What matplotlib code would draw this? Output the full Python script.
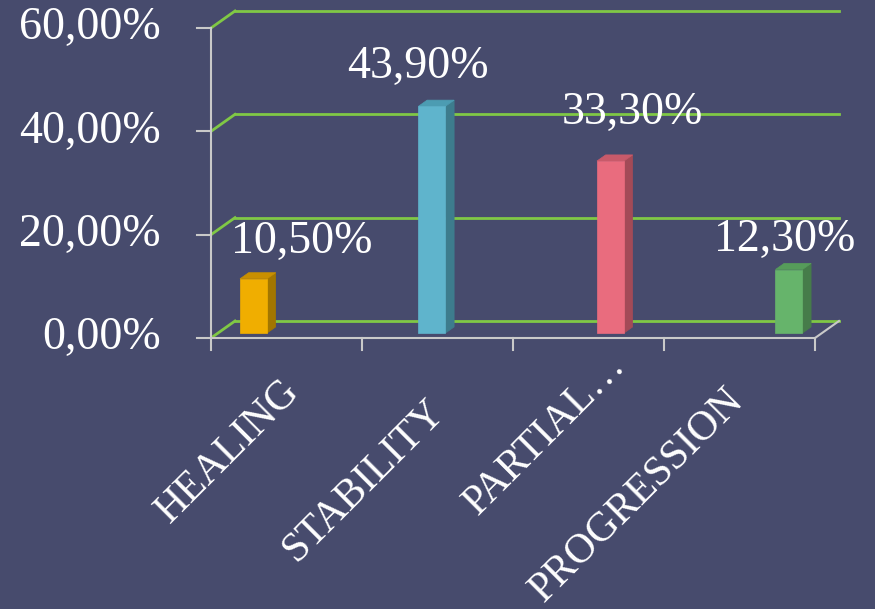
import numpy as np
import matplotlib
matplotlib.use('Agg')
import matplotlib.pyplot as plt
from matplotlib.patches import Polygon

# Données
categories = ['HEALING', 'STABILITY', 'PARTIAL…', 'PROGRESSION']
valeurs = [10.5, 43.9, 33.3, 12.3]
etiquettes = ['10,50%', '43,90%', '33,30%', '12,30%']
yticks = [0, 20, 40, 60]
ytick_labels = ['0,00%', '20,00%', '40,00%', '60,00%']

# Couleurs (face, côté, dessus)
faces = ['#f0ae00', '#5fb4cc', '#e96c7e', '#66b46b']
cotes = ['#a27600', '#3d7c8d', '#a34a57', '#467c4a']
dessus = ['#c88f00', '#4c9cb2', '#c85a6a', '#569c5a']

fond = '#474b6d'
vert = '#80c845'
gris = '#c9c9c9'
police = 'Liberation Serif'

fig = plt.figure(figsize=(8.75, 6.09), dpi=100, facecolor=fond)
# axe : x 0..4 -> px 211..815, y 0..60 -> px 338..28
ax = fig.add_axes([211/875, (609-338)/609, 604/875, 310/609])
ax.set_xlim(0, 4)
ax.set_ylim(0, 60)
ax.axis('off')

# profondeur oblique (en unités de données)
ddx = 24/151
ddy = 17*60/310

# quadrillage vert : mur de gauche + mur du fond
for yv in yticks:
    ax.plot([0, ddx], [yv, yv+ddy], color=vert, lw=2, clip_on=False, zorder=1)
    ax.plot([ddx, 4+ddx], [yv+ddy, yv+ddy], color=vert, lw=2, clip_on=False, zorder=1)

# axes gris
ax.plot([0, 0], [0, 60], color=gris, lw=1.5, clip_on=False, zorder=2)
ax.plot([0, 4], [0, 0], color=gris, lw=1.5, clip_on=False, zorder=2)
ax.plot([4, 4+ddx], [0, ddy], color=gris, lw=1.5, clip_on=False, zorder=2)
for yv in yticks:
    ax.plot([-14/151, 0], [yv, yv], color=gris, lw=1.5, clip_on=False, zorder=2)
for i in range(5):
    ax.plot([i, i], [0, -12*60/310], color=gris, lw=1.5, clip_on=False, zorder=2)

# barres 3D
pos = 0.146 + np.arange(4)*1.182
larg = 27/151
d0, d1 = 0.29, 0.65
for i, v in enumerate(valeurs):
    x0 = pos[i] + d0*ddx
    y0 = d0*ddy
    px, py = (d1-d0)*ddx, (d1-d0)*ddy
    front = [(x0, y0), (x0+larg, y0), (x0+larg, y0+v), (x0, y0+v)]
    side = [(x0+larg, y0), (x0+larg+px, y0+py), (x0+larg+px, y0+v+py), (x0+larg, y0+v)]
    top = [(x0, y0+v), (x0+larg, y0+v), (x0+larg+px, y0+v+py), (x0+px, y0+v+py)]
    for pts, c in [(side, cotes[i]), (top, dessus[i]), (front, faces[i])]:
        ax.add_patch(Polygon(pts, closed=True, facecolor=c, edgecolor=c,
                             lw=0.5, clip_on=False, zorder=3))

# étiquettes de valeurs (décalages en pixels)
decal = [(48, 37), (-14, 40), (22, 48), (-4, 30)]
for i, v in enumerate(valeurs):
    xc = pos[i] + d0*ddx + larg/2
    ax.annotate(etiquettes[i], (xc, v + d0*ddy), xytext=(decal[i][0]*0.72, decal[i][1]*0.72),
                textcoords='offset points', ha='center', va='center',
                color='white', fontsize=33, family=police, zorder=5,
                annotation_clip=False)

# graduations y
for yv, lab in zip(yticks, ytick_labels):
    ax.text(-50/151, yv, lab, ha='right', va='center', color='white',
            fontsize=33, family=police)

# catégories (fin de ligne de base, décalage en pixels)
decal_cat = [(14, -55), (8, -75), (38, -29), (6, -64)]
for i, c in enumerate(categories):
    ax.annotate(c, (i + 0.5, 0), xytext=(decal_cat[i][0]*0.72, decal_cat[i][1]*0.72),
                textcoords='offset points', rotation=45, rotation_mode='anchor',
                ha='right', va='baseline', color='white', fontsize=30,
                family=police, annotation_clip=False)

fig.savefig('out.png', dpi=100, facecolor=fond)
